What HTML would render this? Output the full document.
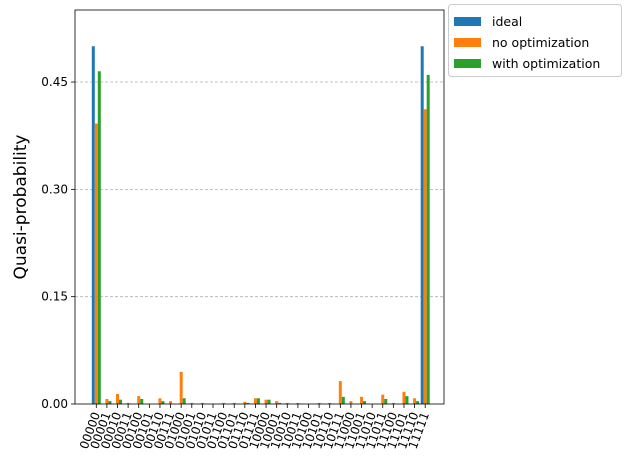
<!DOCTYPE html>
<html><head><meta charset="utf-8"><style>
body{margin:0;background:#fff;font-family:"Liberation Sans","DejaVu Sans",sans-serif;}
</style></head><body>
<svg id="chart" width="628" height="470" xmlns="http://www.w3.org/2000/svg" font-family="DejaVu Sans, Liberation Sans, sans-serif">
<g id="grid"></g><g id="bars"></g><g id="axes"></g><g id="legend"></g>
</svg>
<script>
const categories=["00000","00001","00010","00011","00100","00101","00110","00111","01000","01001","01010","01011","01100","01101","01110","01111","10000","10001","10010","10011","10100","10101","10110","10111","11000","11001","11010","11011","11100","11101","11110","11111"];
const ideal=[0.5,0,0,0,0,0,0,0,0,0,0,0,0,0,0,0,0,0,0,0,0,0,0,0,0,0,0,0,0,0,0,0.5];
const noOpt=[0.392,0.007,0.014,0.0015,0.011,0,0.008,0.004,0.045,0.0015,0.0015,0,0.0015,0.0015,0.003,0.008,0.006,0.004,0.0015,0.0015,0,0.0015,0.0015,0.032,0.004,0.010,0,0.013,0.0015,0.017,0.008,0.412];
const withOpt=[0.465,0.004,0.006,0,0.007,0,0.004,0,0.008,0,0,0,0,0,0.0015,0.008,0.006,0.0015,0,0,0,0,0,0.010,0,0.004,0,0.007,0,0.011,0.004,0.46];
const yTicks=[0,0.15,0.30,0.45];
const yTickLabels=["0.00","0.15","0.30","0.45"];
const seriesNames=["ideal","no optimization","with optimization"];
const colors=["#1f77b4","#ff7f0e","#2ca02c"];

const NS="http://www.w3.org/2000/svg";
const L=75,R=444,T=10,B=404,yMax=(404-10)/715.5;
const x0=96.3,dx=(425.2-96.3)/31,bw=3;
const xs=i=>x0+i*dx;
const ys=v=>B-(v/yMax)*(B-T);
function mk(tag,attrs,parent){const e=document.createElementNS(NS,tag);for(const k in attrs)e.setAttribute(k,attrs[k]);parent.appendChild(e);return e;}
const grid=document.getElementById('grid'),bars=document.getElementById('bars'),axes=document.getElementById('axes'),leg=document.getElementById('legend');
yTicks.forEach((t,i)=>{
 if(t>0){const g=mk('line',{x1:L,x2:R,y1:ys(t),y2:ys(t),stroke:'#b0b0b0','stroke-dasharray':'3,2','stroke-width':0.8},grid);
 
 }
 const tk=mk('line',{x1:L-4,x2:L,y1:ys(t),y2:ys(t),stroke:'#000','stroke-width':0.8},axes);
 
 
 const lb=mk('text',{x:L-7,y:ys(t)+4,'text-anchor':'end','font-size':12},axes);lb.textContent=yTickLabels[i];
 
 
});
const series=[ideal,noOpt,withOpt];
categories.forEach((c,i)=>{
 series.forEach((s,k)=>{
  if(s[i]<=0)return;
  const r=mk('rect',{x:xs(i)-1.5*bw+k*bw,y:ys(s[i]),width:bw,height:B-ys(s[i]),fill:colors[k]},bars);
  
  
 });
 const tk=mk('line',{x1:xs(i),x2:xs(i),y1:B,y2:B+4,stroke:'#000','stroke-width':0.8},axes);
 
 
 const lb=mk('text',{x:0,y:0,'text-anchor':'end','font-size':12,transform:`translate(${xs(i)+4},${B+10}) rotate(-70)`},axes);lb.textContent=c;
 
 
});
const fr=mk('rect',{x:L,y:T,width:R-L,height:B-T,fill:'none',stroke:'#000','stroke-width':0.8},axes);


const yl=mk('text',{x:0,y:0,'text-anchor':'middle','font-size':17,transform:`translate(26,207) rotate(-90)`},axes);yl.textContent="Quasi-probability";


const lbox=mk('rect',{x:448.5,y:4.5,width:173,height:72,rx:3,fill:'#fff',stroke:'#ccc'},leg);


seriesNames.forEach((n,k)=>{
 const y=22+k*21;
 const sw=mk('rect',{x:454,y:y-5,width:27,height:9,fill:colors[k]},leg);
 
 
 const t=mk('text',{x:492,y:y+4,'font-size':12.5},leg);t.textContent=n;
 
 
});
</script>
</body></html>
